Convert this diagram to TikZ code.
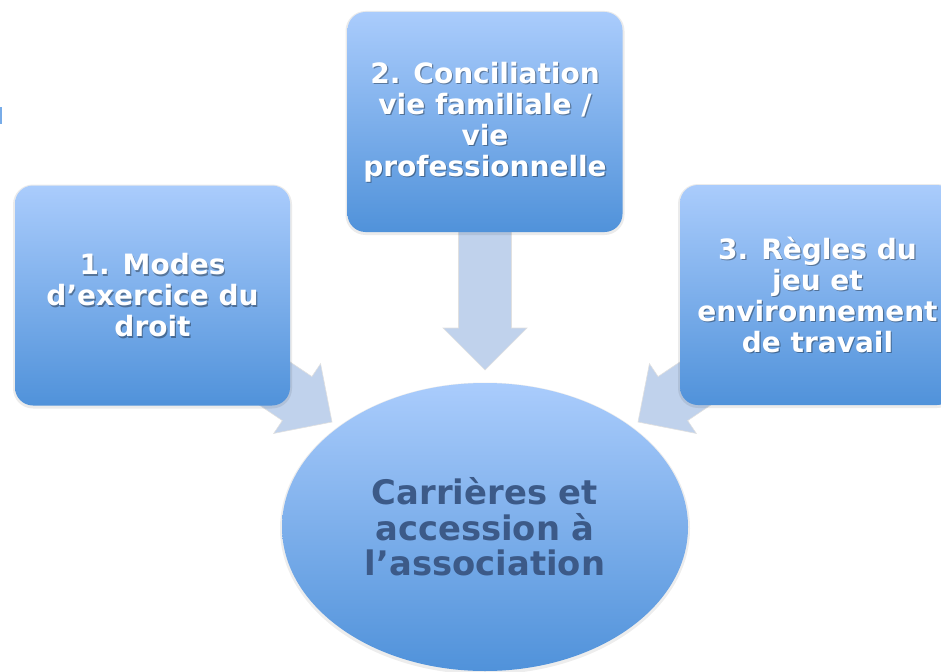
\documentclass[tikz,border=0pt]{standalone}
\usepackage{fontspec}
\setmainfont{DejaVu Sans}
\usetikzlibrary{shapes.geometric}
\definecolor{boxtop}{RGB}{170,204,252}
\definecolor{boxbot}{RGB}{80,146,218}
\definecolor{arrfill}{RGB}{192,210,236}
\definecolor{ctext}{RGB}{60,90,136}
\definecolor{fragblue}{RGB}{120,172,232}
\tikzset{
  boxshape/.style={rectangle, rounded corners=18pt, minimum width=275pt, minimum height=220pt,
    inner sep=0pt, top color=boxtop, bottom color=boxbot, draw=none},
  boxhalo/.style={rectangle, rounded corners=20pt, minimum width=279pt, minimum height=224pt,
    inner sep=0pt, fill=black, fill opacity=0.08, draw=none},
  boxtext/.style={align=center, text=white, inner sep=0pt,
    font=\fontsize{28}{31}\selectfont\bfseries},
  boxtextshadow/.style={boxtext, text=black, text opacity=0.35},
  blockarrow/.style={fill=arrfill, draw=black!12, line width=0.6pt},
  centreshape/.style={ellipse, minimum width=406pt, minimum height=288pt, inner sep=0pt,
    top color=boxtop, bottom color=boxbot, draw=none},
  centrehalo/.style={ellipse, minimum width=410pt, minimum height=292pt, inner sep=0pt,
    fill=black, fill opacity=0.07, draw=none},
  centretext/.style={align=center, text=ctext, inner sep=0pt,
    font=\fontsize{33.8}{35.5}\selectfont\bfseries}
}
\begin{document}
\begin{tikzpicture}[x=1pt,y=-1pt]
\useasboundingbox (0,0) rectangle (941,671);
\fill[white] (0,0) rectangle (941,671);
% small cut-off fragment at the left edge
\fill[fragblue] (0,107) rectangle (2.2,124);

% anchor coordinates for the arrow tips
\coordinate (tipL) at (332,422);
\coordinate (tipM) at (485,370);
\coordinate (tipR) at (638,422);

% block arrows (behind the boxes)
\begin{scope}[shift={(tipL)}, rotate=-33.9]
  \draw[blockarrow] (0,0) -- (-42,42) -- (-42,26.5) -- (-150,26.5) -- (-150,-26.5) -- (-42,-26.5) -- (-42,-42) -- cycle;
\end{scope}
\begin{scope}[shift={(tipM)}, rotate=-90]
  \draw[blockarrow] (0,0) -- (-42,42) -- (-42,26.5) -- (-150,26.5) -- (-150,-26.5) -- (-42,-26.5) -- (-42,-42) -- cycle;
\end{scope}
\begin{scope}[shift={(tipR)}, rotate=213.9]
  \draw[blockarrow] (0,0) -- (-42,42) -- (-42,26.5) -- (-150,26.5) -- (-150,-26.5) -- (-42,-26.5) -- (-42,-42) -- cycle;
\end{scope}

% boxes
\node[boxhalo] (h1) at (152.5,296.5) {};
\node[boxhalo] (h2) at (485,123) {};
\node[boxhalo] (h3) at (817.5,296) {};
\node[boxshape] (b1) at (152.5,295.5) {};
\node[boxshape] (b2) at (485,122) {};
\node[boxshape] (b3) at (817.5,295) {};

\node[boxtextshadow] (s1) at ([shift={(1.2,1.2)}]b1.center) {1. Modes\\d’exercice du\\droit};
\node[boxtext] (t1) at (b1.center) {1. Modes\\d’exercice du\\droit};
\node[boxtextshadow] (s2) at ([shift={(1.2,1.2)}]b2.center) {2. Conciliation\\vie familiale /\\vie\\professionnelle};
\node[boxtext] (t2) at (b2.center) {2. Conciliation\\vie familiale /\\vie\\professionnelle};
\node[boxtextshadow] (s3) at ([shift={(1.2,1.2)}]b3.center) {3. Règles du\\jeu et\\environnement\\de travail};
\node[boxtext] (t3) at (b3.center) {3. Règles du\\jeu et\\environnement\\de travail};

% centre ellipse
\node[centrehalo] (ch) at (485,528.5) {};
\node[centreshape] (c) at (485,527) {};
\node[centretext] (ct) at (c.center) {Carrières et\\accession à\\l’association};
\end{tikzpicture}
\end{document}
